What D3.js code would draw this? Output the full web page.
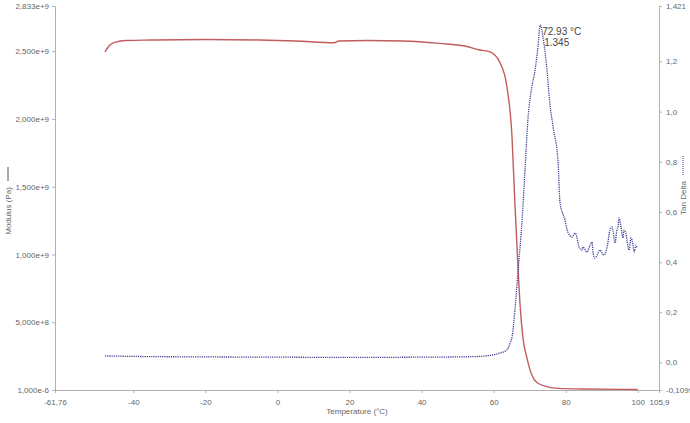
<!DOCTYPE html>
<html>
<head>
<meta charset="utf-8">
<title>DMA - Modulus and Tan Delta</title>
<style>
body { margin: 0; background: #fff; }
text { font-family: "Liberation Sans", Arial, sans-serif; }
</style>
<script src="https://cdn.jsdelivr.net/npm/d3@7"></script>
</head>
<body>
<div id="chart"></div>
<script>

// modulus curve (Pa)
var modTemp = [-47.9, -46.5, -45, -42, -35, -20, -5, 5, 15.8, 17, 25, 35, 45, 52, 56.2, 59.0, 61.8, 63.7, 65.1, 65.9, 66.8, 67.3, 68.1, 69.3, 70.6, 72.0, 74.8, 78, 85, 100];
var modulus = [2.494e9, 2.545e9, 2.567e9, 2.579e9, 2.582e9, 2.586e9, 2.582e9, 2.575e9, 2.562e9, 2.575e9, 2.579e9, 2.575e9, 2.557e9, 2.538e9, 2.508e9, 2.494e9, 2.413e9, 2.235e9, 1.867e9, 1.380e9, 0.885e9, 0.642e9, 0.391e9, 0.230e9, 0.110e9, 0.055e9, 0.025e9, 0.012e9, 0.007e9, 0.004e9];

// tan delta curve
var tanTemp = [-47.9, -40, -20, 0, 20, 40, 50, 56.2, 61.8, 63.7, 64.5, 65.1, 65.9, 66.8, 67.9, 68.7, 69.5, 70.6, 71.5, 72.3, 72.93, 73.7, 74.8, 75.6, 76.5, 77.9, 78.4, 79.8, 80.6, 81.8, 82.6, 83.1, 83.7, 84.5, 84.8, 85.9, 86.8, 87.3, 87.6, 88.1, 88.7, 89.5, 90.1, 90.6, 91.5, 92.3, 92.9, 93.1, 93.7, 94.2, 94.5, 94.8, 95.4, 95.9, 96.2, 96.7, 97.0, 97.6, 98.1, 98.7, 99.0, 99.5, 99.8];
var tanDelta = [0.026, 0.024, 0.022, 0.021, 0.020, 0.021, 0.022, 0.024, 0.038, 0.050, 0.075, 0.101, 0.209, 0.369, 0.568, 0.767, 0.966, 1.098, 1.166, 1.258, 1.345, 1.297, 1.166, 1.034, 0.939, 0.795, 0.640, 0.568, 0.520, 0.500, 0.516, 0.500, 0.460, 0.448, 0.460, 0.440, 0.468, 0.480, 0.436, 0.416, 0.428, 0.448, 0.436, 0.428, 0.460, 0.528, 0.540, 0.528, 0.476, 0.528, 0.536, 0.576, 0.536, 0.496, 0.528, 0.516, 0.488, 0.448, 0.496, 0.468, 0.440, 0.468, 0.456];

// axis ticks
var xTickValues = [-61.76, -40, -20, 0, 20, 40, 60, 80, 100, 105.9];
var xTickLabels = ["-61,76", "-40", "-20", "0", "20", "40", "60", "80", "100", "105,9"];
var leftTickValues = [0, 5e8, 1e9, 1.5e9, 2e9, 2.5e9, 2.833e9];
var leftTickLabels = ["1,000e-6", "5,000e+8", "1,000e+9", "1,500e+9", "2,000e+9", "2,500e+9", "2,833e+9"];
var rightTickValues = [-0.1099, 0, 0.2, 0.4, 0.6, 0.8, 1.0, 1.2, 1.421];
var rightTickLabels = ["-0,1099", "0,0", "0,2", "0,4", "0,6", "0,8", "1,0", "1,2", "1,421"];

var peakTemp = 72.93;
var peakTan = 1.345;

var width = 690;
var height = 423;
var margin = {left: 55, right: 31, top: 6, bottom: 33};

var svg = d3.select("#chart")
	.append("svg")
		.attr("width", width)
		.attr("height", height);

var x = d3.scaleLinear()
	.domain([-61.76, 105.9])
	.range([margin.left, width - margin.right]);

var yMod = d3.scaleLinear()
	.domain([0, 2.833e9])
	.range([height - margin.bottom, margin.top]);

var yTan = d3.scaleLinear()
	.domain([-0.1099, 1.421])
	.range([height - margin.bottom, margin.top]);

var axisColor = "#b0b0b0";
var labelColor = "#666";

function styleAxis(g) {
	g.selectAll("path").attr("stroke", axisColor);
	g.selectAll("line").attr("stroke", axisColor);
	g.selectAll("text")
		.attr("fill", labelColor)
		.style("font-size", "8px")
		.style("font-family", "Liberation Sans, Arial, sans-serif");
}

var xAxis = svg.append("g")
	.attr("transform", "translate(0," + (height - margin.bottom) + ")")
	.call(d3.axisBottom(x)
		.tickValues(xTickValues)
		.tickFormat(function(d, i) { return xTickLabels[i]; })
		.tickSize(3)
		.tickSizeOuter(0)
		.tickPadding(6));
styleAxis(xAxis);

var leftAxis = svg.append("g")
	.attr("transform", "translate(" + margin.left + ",0)")
	.call(d3.axisLeft(yMod)
		.tickValues(leftTickValues)
		.tickFormat(function(d, i) { return leftTickLabels[i]; })
		.tickSize(3)
		.tickSizeOuter(0)
		.tickPadding(3));
styleAxis(leftAxis);

var rightAxis = svg.append("g")
	.attr("transform", "translate(" + (width - margin.right) + ",0)")
	.call(d3.axisRight(yTan)
		.tickValues(rightTickValues)
		.tickFormat(function(d, i) { return rightTickLabels[i]; })
		.tickSize(3)
		.tickSizeOuter(0)
		.tickPadding(4));
styleAxis(rightAxis);

// curves
var modLine = d3.line()
	.x(function(d) { return x(d[0]); })
	.y(function(d) { return yMod(d[1]); })
	.curve(d3.curveMonotoneX);

var tanLine = d3.line()
	.x(function(d) { return x(d[0]); })
	.y(function(d) { return yTan(d[1]); })
	.curve(d3.curveMonotoneX);

svg.append("path")
	.datum(d3.zip(modTemp, modulus))
	.attr("d", modLine)
	.attr("fill", "none")
	.attr("stroke", "#c25c5e")
	.attr("stroke-width", 1.4);

svg.append("path")
	.datum(d3.zip(tanTemp, tanDelta))
	.attr("d", tanLine)
	.attr("fill", "none")
	.attr("stroke", "#3c3c96")
	.attr("stroke-width", 1.3)
	.attr("stroke-dasharray", "1.2,1");

// peak annotation
var note = svg.append("g")
	.attr("fill", "#444")
	.style("font-size", "10px");

note.append("text")
	.attr("x", x(peakTemp) + 2)
	.attr("y", yTan(peakTan) + 10)
	.text(peakTemp.toFixed(2) + " °C");

note.append("text")
	.attr("x", x(peakTemp) + 4)
	.attr("y", yTan(peakTan) + 21)
	.text(peakTan.toFixed(3));

// axis titles
var midY = (height - margin.bottom + margin.top) / 2;

svg.append("text")
	.attr("x", (margin.left + width - margin.right) / 2)
	.attr("y", height - 9)
	.attr("text-anchor", "middle")
	.attr("fill", labelColor)
	.style("font-size", "8px")
	.text("Temperature (°C)");

var leftTitle = svg.append("g")
	.attr("transform", "translate(11," + (midY - 7) + ") rotate(-90)");
leftTitle.append("text")
	.attr("x", -20)
	.attr("y", 0)
	.attr("text-anchor", "middle")
	.attr("fill", labelColor)
	.style("font-size", "8px")
	.text("Modulus (Pa)");
leftTitle.append("line")
	.attr("x1", 10).attr("x2", 24)
	.attr("y1", -3).attr("y2", -3)
	.attr("stroke", "#555")
	.attr("stroke-width", 1);

var rightTitle = svg.append("g")
	.attr("transform", "translate(686," + (midY - 10) + ") rotate(-90)");
rightTitle.append("text")
	.attr("x", -10)
	.attr("y", 0)
	.attr("text-anchor", "middle")
	.attr("fill", labelColor)
	.style("font-size", "8px")
	.text("Tan Delta");
rightTitle.append("line")
	.attr("x1", 13).attr("x2", 33)
	.attr("y1", -3).attr("y2", -3)
	.attr("stroke", "#3c3c96")
	.attr("stroke-width", 1)
	.attr("stroke-dasharray", "1,1");

</script>
</body>
</html>
